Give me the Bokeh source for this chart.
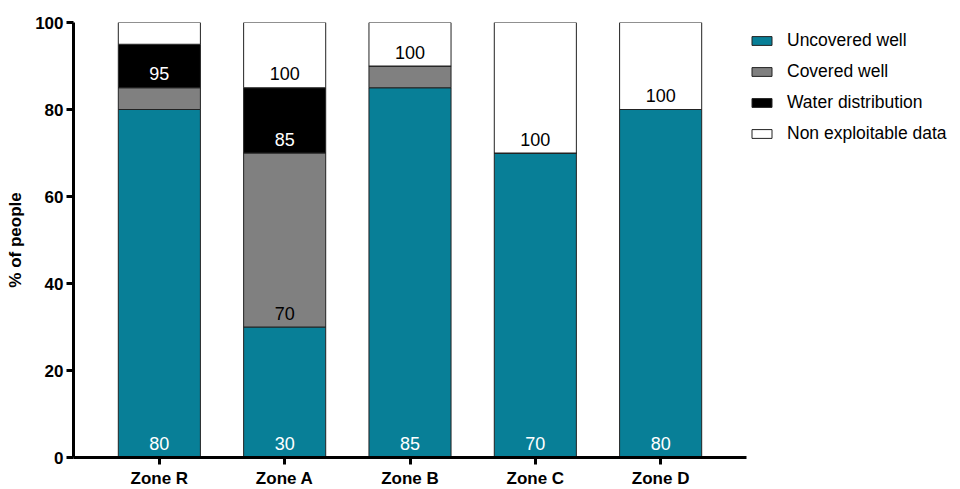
from bokeh.plotting import figure
from bokeh.models import FactorRange, Range1d, FixedTicker, Legend, LegendItem, ColumnDataSource
from bokeh.embed import file_html
from bokeh.resources import INLINE
from bokeh.core.properties import value

zones = ["Zone R", "Zone A", "Zone B", "Zone C", "Zone D"]
series = ["Uncovered well", "Covered well", "Water distribution", "Non exploitable data"]
uncovered = [80, 30, 85, 70, 80]
covered = [5, 40, 5, 0, 0]
water = [10, 15, 0, 0, 0]
nonexp = [5, 15, 10, 30, 20]
y_ticks = [0, 20, 40, 60, 80, 100]

# value labels: zone, segment they sit in, text
label_zone = ["Zone R", "Zone R", "Zone A", "Zone A", "Zone A", "Zone A", "Zone B", "Zone B", "Zone C", "Zone C", "Zone D", "Zone D"]
label_series = [0, 2, 0, 1, 2, 3, 0, 3, 0, 3, 0, 3]
label_text = ["80", "95", "30", "70", "85", "100", "85", "100", "70", "100", "80", "100"]

colors = ["#087f97", "#808080", "#000000", "#ffffff"]
text_colors = ["#ffffff", "#000000", "#ffffff", "#000000"]
FONT = "Liberation Sans"

data = {"zones": zones}
keys = ["s0", "s1", "s2", "s3"]
for k, v in zip(keys, [uncovered, covered, water, nonexp]):
    data[k] = v
src = ColumnDataSource(data)

p = figure(x_range=FactorRange(*zones, range_padding=0.074), y_range=Range1d(0, 100),
           frame_width=673, frame_height=435, width=960, height=489,
           min_border_left=73, min_border_right=0, min_border_top=22, min_border_bottom=32,
           output_backend="svg", toolbar_location=None, outline_line_color=None)
p.xgrid.visible = False
p.ygrid.visible = False

rs = p.vbar_stack(keys, x="zones", width=0.655, source=src, color=colors,
                  line_color="#222222", line_width=1)
for r in rs:
    r.glyph.line_color = "#222222"

# label positions from stacking
stacks = list(zip(uncovered, covered, water, nonexp))
lx, ly, lc = [], [], []
for z, s, t in zip(label_zone, label_series, label_text):
    i = zones.index(z)
    base = sum(stacks[i][:s])
    lx.append(z)
    ly.append(base)
    lc.append(text_colors[s])
lsrc = ColumnDataSource(dict(x=lx, y=ly, text=label_text, c=lc))
p.text(x="x", y="y", text="text", source=lsrc, text_color="c", text_align="center",
       text_baseline="middle", y_offset=-14, text_font=value(FONT), text_font_size="18px")

legend = Legend(items=[LegendItem(label=series[i], renderers=[rs[i]]) for i in range(4)],
                location=(3, 313), glyph_width=25, glyph_height=11, label_height=21,
                spacing=10, padding=0, margin=0, border_line_color=None,
                background_fill_alpha=0, label_text_font=FONT, label_text_font_size="17.5px",
                label_text_color="#000000", label_standoff=13)
p.add_layout(legend, "right")

for ax in [p.xaxis[0], p.yaxis[0]]:
    ax.axis_line_width = 3
    ax.major_tick_line_width = 3
    ax.major_tick_out = 7
    ax.major_tick_in = 0
    ax.minor_tick_line_color = None
    ax.major_label_text_font = FONT
    ax.major_label_text_font_style = "bold"
    ax.major_label_text_font_size = "17px"
    ax.major_label_text_color = "#000000"
p.xaxis.major_label_standoff = 4
p.yaxis.major_label_standoff = 3
p.yaxis.ticker = FixedTicker(ticks=y_ticks)
p.yaxis.axis_label = "% of people"
p.yaxis.axis_label_text_font = FONT
p.yaxis.axis_label_text_font_style = "bold"
p.yaxis.axis_label_text_font_size = "17px"
p.yaxis.axis_label_text_color = "#000000"
p.yaxis.axis_label_standoff = 7

open("out.html", "w").write(file_html(p, INLINE))
